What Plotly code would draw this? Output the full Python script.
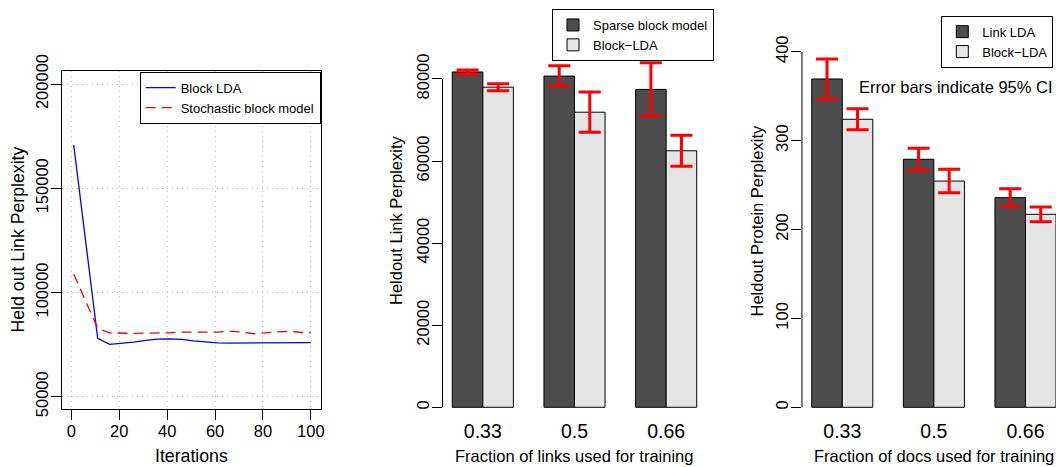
import plotly.graph_objects as go

# ---------------- data ----------------
iterations = [1, 6, 11, 16, 21, 26, 31, 36, 41, 46, 51, 56, 61, 66, 71, 76, 81, 86, 91, 96, 100]
block_lda_perp = [170700, 124300, 77970, 75090, 75570, 76200, 77000, 77630, 77780, 77500, 76820,
                  76200, 75860, 75700, 75700, 75700, 75700, 75900, 76000, 75850, 75950]
sbm_perp = [108770, 95500, 82760, 80650, 80360, 80360, 80500, 80500, 80650, 81000, 81130,
            81000, 81000, 81450, 81000, 80200, 80650, 81000, 81450, 80800, 80800]

link_fractions = ["0.33", "0.5", "0.66"]
sparse_block = [81700, 80700, 77450]
sparse_block_err = [500, 2500, 6500]
block_lda_links = [78000, 71900, 62500]
block_lda_links_err = [850, 4900, 3800]

doc_fractions = ["0.33", "0.5", "0.66"]
link_lda = [369.3, 279.0, 235.8]
link_lda_err = [22.5, 12.5, 10.1]
block_lda_docs = [324.0, 254.5, 217.1]
block_lda_docs_err = [11.7, 13.3, 8.3]

left_xticks = [0, 20, 40, 60, 80, 100]
left_yticks = [50000, 100000, 150000, 200000]
mid_yticks = [0, 20000, 40000, 60000, 80000]
right_yticks = [0, 100, 200, 300, 400]

# ---------------- layout helpers ----------------
W, H = 1056, 467
FONT = "Liberation Sans, Arial, Helvetica, sans-serif"


def px(x):
    return x / W


def py(y):
    return 1 - y / H


DARK = "#4d4d4d"
LIGHT = "#e5e5e5"
GRID = "#bebebe"

fig = go.Figure()

# left: line chart
fig.add_trace(go.Scatter(x=iterations, y=block_lda_perp, mode="lines", name="Block LDA",
                         line=dict(color="#0000ff", width=1.3), xaxis="x", yaxis="y",
                         legend="legend"))
fig.add_trace(go.Scatter(x=iterations, y=sbm_perp, mode="lines", name="Stochastic block model",
                         line=dict(color="#ff0000", width=1.3, dash="10px,6px"), xaxis="x", yaxis="y",
                         legend="legend"))

err_style = dict(type="data", color="#ff0000", thickness=3, width=11)

# middle: link perplexity bars
fig.add_trace(go.Bar(x=link_fractions, y=sparse_block, name="Sparse block model",
                     marker=dict(color=DARK, line=dict(color="black", width=1)),
                     error_y=dict(array=sparse_block_err, **err_style),
                     xaxis="x2", yaxis="y2", legend="legend2"))
fig.add_trace(go.Bar(x=link_fractions, y=block_lda_links, name="Block\u2212LDA",
                     marker=dict(color=LIGHT, line=dict(color="black", width=1)),
                     error_y=dict(array=block_lda_links_err, **err_style),
                     xaxis="x2", yaxis="y2", legend="legend2"))

# right: protein perplexity bars
fig.add_trace(go.Bar(x=doc_fractions, y=link_lda, name="Link LDA",
                     marker=dict(color=DARK, line=dict(color="black", width=1)),
                     error_y=dict(array=link_lda_err, **err_style),
                     xaxis="x3", yaxis="y3", legend="legend3"))
fig.add_trace(go.Bar(x=doc_fractions, y=block_lda_docs, name="Block\u2212LDA",
                     marker=dict(color=LIGHT, line=dict(color="black", width=1)),
                     error_y=dict(array=block_lda_docs_err, **err_style),
                     xaxis="x3", yaxis="y3", legend="legend3"))

tickfont = dict(family=FONT, size=16.5, color="black")
common_ticks = dict(ticks="outside", ticklen=10, tickwidth=1, tickcolor="black",
                    tickfont=tickfont, zeroline=False, tickformat="d", automargin=False)
ytick_extra = dict(tickangle=-90, ticklabelstandoff=-4)
grid_style = dict(showgrid=True, gridcolor=GRID, griddash="1px,4px", gridwidth=1)
bar_xtick_font = dict(family=FONT, size=19.5, color="black")

bar_bottom, bar_top = 419.6, 29.7

fig.update_layout(
    width=W, height=H,
    margin=dict(l=0, r=0, t=0, b=0, pad=0, autoexpand=False),
    paper_bgcolor="white", plot_bgcolor="white",
    font=dict(family=FONT, color="black"),
    barmode="group", bargap=1 / 3, bargroupgap=0,
    xaxis=dict(domain=[px(62), px(320.7)], range=[-3.9, 104.1],
               tickvals=left_xticks, showline=True, mirror=True, linecolor="black", linewidth=1,
               anchor="y", ticklabelstandoff=-3, **grid_style, **common_ticks),
    yaxis=dict(domain=[py(409), py(71)], range=[44100, 206240],
               tickvals=left_yticks, showline=True, mirror=True, linecolor="black",
               linewidth=1, anchor="x", **ytick_extra, **grid_style, **common_ticks),
    xaxis2=dict(domain=[px(442.5), px(706.5)], range=[-0.44, 2.44], type="category",
                showline=False, showgrid=False, ticks="", zeroline=False, automargin=False,
                ticklabelstandoff=-2, tickfont=bar_xtick_font, anchor="y2"),
    yaxis2=dict(domain=[py(bar_bottom), py(bar_top)], range=[-3000, 92000],
                tickvals=mid_yticks, showline=False, showgrid=False,
                anchor="x2", **ytick_extra, **common_ticks),
    xaxis3=dict(domain=[px(801.96), 1.0], range=[-0.44, 2.333], type="category",
                showline=False, showgrid=False, ticks="", zeroline=False, automargin=False,
                ticklabelstandoff=-2, tickfont=bar_xtick_font, anchor="y3"),
    yaxis3=dict(domain=[py(bar_bottom), py(bar_top)], range=[-13.84, 424.75],
                tickvals=right_yticks, showline=False, showgrid=False,
                anchor="x3", **ytick_extra, **common_ticks),
    legend=dict(x=px(320.7), y=py(71.7), xanchor="right", yanchor="top",
                bordercolor="black", borderwidth=1, bgcolor="white",
                font=dict(family=FONT, size=13, color="black")),
    legend2=dict(x=px(714), y=py(9), xanchor="right", yanchor="top",
                 bordercolor="black", borderwidth=1, bgcolor="white",
                 font=dict(family=FONT, size=13, color="black")),
    legend3=dict(x=px(1053.3), y=py(15.7), xanchor="right", yanchor="top",
                 bordercolor="black", borderwidth=1, bgcolor="white",
                 font=dict(family=FONT, size=13, color="black")),
    showlegend=True,
)

# y axis lines for the bar charts (from first to last tick, like R)
for xa, ya, ticks in (("x2", "y2", mid_yticks), ("x3", "y3", right_yticks)):
    fig.add_shape(type="line", xref=f"{xa} domain", yref=ya, x0=0, x1=0,
                  y0=min(ticks), y1=max(ticks), line=dict(color="black", width=1))

title_font = dict(family=FONT, size=17.7, color="black")
bar_title_font = dict(family=FONT, size=16.5, color="black")
annots = [
    dict(text="Held out Link Perplexity", x=px(17.5), y=py(240), textangle=-90, font=title_font),
    dict(text="Iterations", x=px(191.3), y=py(456), font=title_font),
    dict(text="Heldout Link Perplexity", x=px(396.7), y=py(220.3), textangle=-90, font=bar_title_font),
    dict(text="Fraction of links used for training", x=px(574.2), y=py(456), font=bar_title_font),
    dict(text="Heldout Protein Perplexity", x=px(756.7), y=py(220.8), textangle=-90, font=bar_title_font),
    dict(text="Fraction of docs used for training", x=px(934), y=py(456), font=bar_title_font),
    dict(text="Error bars indicate 95% CI", x=px(955.5), y=py(87.3), font=bar_title_font),
]
for a in annots:
    fig.add_annotation(xref="paper", yref="paper", showarrow=False,
                       xanchor="center", yanchor="middle", **a)

fig.write_html("out.html", config={"displayModeBar": False},
               post_script="document.body.style.margin='0';document.body.style.overflow='hidden';")
